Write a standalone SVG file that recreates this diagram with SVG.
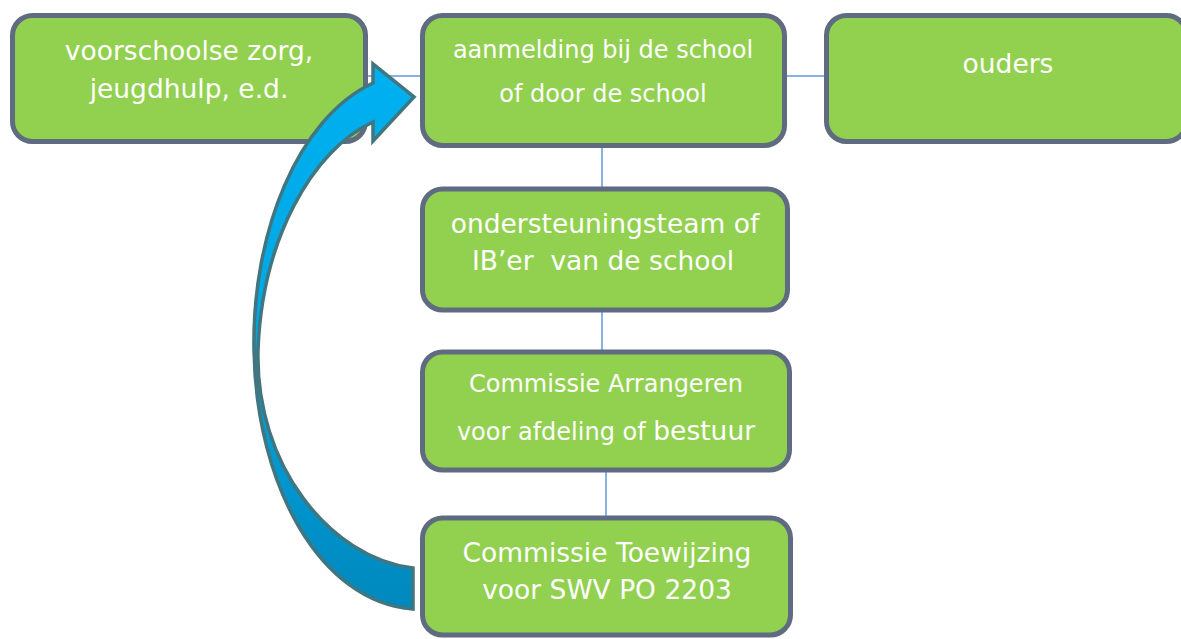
<svg xmlns="http://www.w3.org/2000/svg" width="1181" height="639" viewBox="0 0 1181 639">
<defs>
<style>
.box{fill:#92d050;stroke:#5f6b80;stroke-width:5}
.t{fill:#ffffff;font-family:"DejaVu Sans","Verdana",sans-serif;text-anchor:middle}
.big{font-size:26.5px}
.sm{font-size:24px}
.conn{stroke:#5b9bd5;stroke-width:1.5;fill:none}
</style>
<linearGradient id="ag" x1="0" y1="0" x2="0" y2="1">
<stop offset="0" stop-color="#00b0f0"/>
<stop offset="0.45" stop-color="#00a8e6"/>
<stop offset="1" stop-color="#0088bd"/>
</linearGradient>
</defs>
<rect width="1181" height="639" fill="#ffffff"/>
<g id="connectors">
<line class="conn" x1="366" y1="76" x2="422" y2="76"/>
<line class="conn" x1="786" y1="76" x2="826" y2="76"/>
<line class="conn" x1="602" y1="147" x2="602" y2="188"/>
<line class="conn" x1="602" y1="311" x2="602" y2="351"/>
<line class="conn" x1="606" y1="471" x2="606" y2="517"/>
</g>
<g id="node-voorschoolse">
<rect class="box" x="12.5" y="15.5" width="353" height="126" rx="20"/>
<text class="t big" x="189" y="60">voorschoolse zorg,</text>
<text class="t big" x="189" y="98">jeugdhulp, e.d.</text>
</g>
<g id="node-aanmelding">
<rect class="box" x="422.5" y="15.5" width="362" height="130" rx="20"/>
<text class="t sm" x="603" y="58">aanmelding bij de school</text>
<text class="t sm" x="603" y="102">of door de school</text>
</g>
<g id="node-ouders">
<rect class="box" x="826.5" y="15.5" width="360" height="126" rx="20"/>
<text class="t big" x="1008" y="73">ouders</text>
</g>
<g id="node-ondersteuningsteam">
<rect class="box" x="422.5" y="189" width="365" height="121" rx="20"/>
<text class="t big" x="605" y="233">ondersteuningsteam of</text>
<text class="t big" x="603" y="270" xml:space="preserve">IB’er  van de school</text>
</g>
<g id="node-arrangeren">
<rect class="box" x="422.5" y="352" width="367" height="118" rx="20"/>
<text class="t sm" x="606" y="392">Commissie Arrangeren</text>
<text class="t sm" x="606" y="440">voor afdeling of <tspan style="font-size:26.5px">bestuur</tspan></text>
</g>
<g id="node-toewijzing">
<rect class="box" x="422.5" y="518" width="368" height="117" rx="20"/>
<text class="t big" x="607" y="562">Commissie Toewijzing</text>
<text class="t big" x="607" y="599">voor SWV PO 2203</text>
</g>
<g id="curved-arrow">
<path d="M413,609 C320,602 256,485 254,350 C252,232 298,118 373,83 L373,64 L414,97 L373,141 L373,122 C312,150 262,240 258,350 C255,465 330,558 413,568 Z" fill="url(#ag)" stroke="#41767f" stroke-width="3.5" stroke-linejoin="miter"/>
</g>
</svg>
